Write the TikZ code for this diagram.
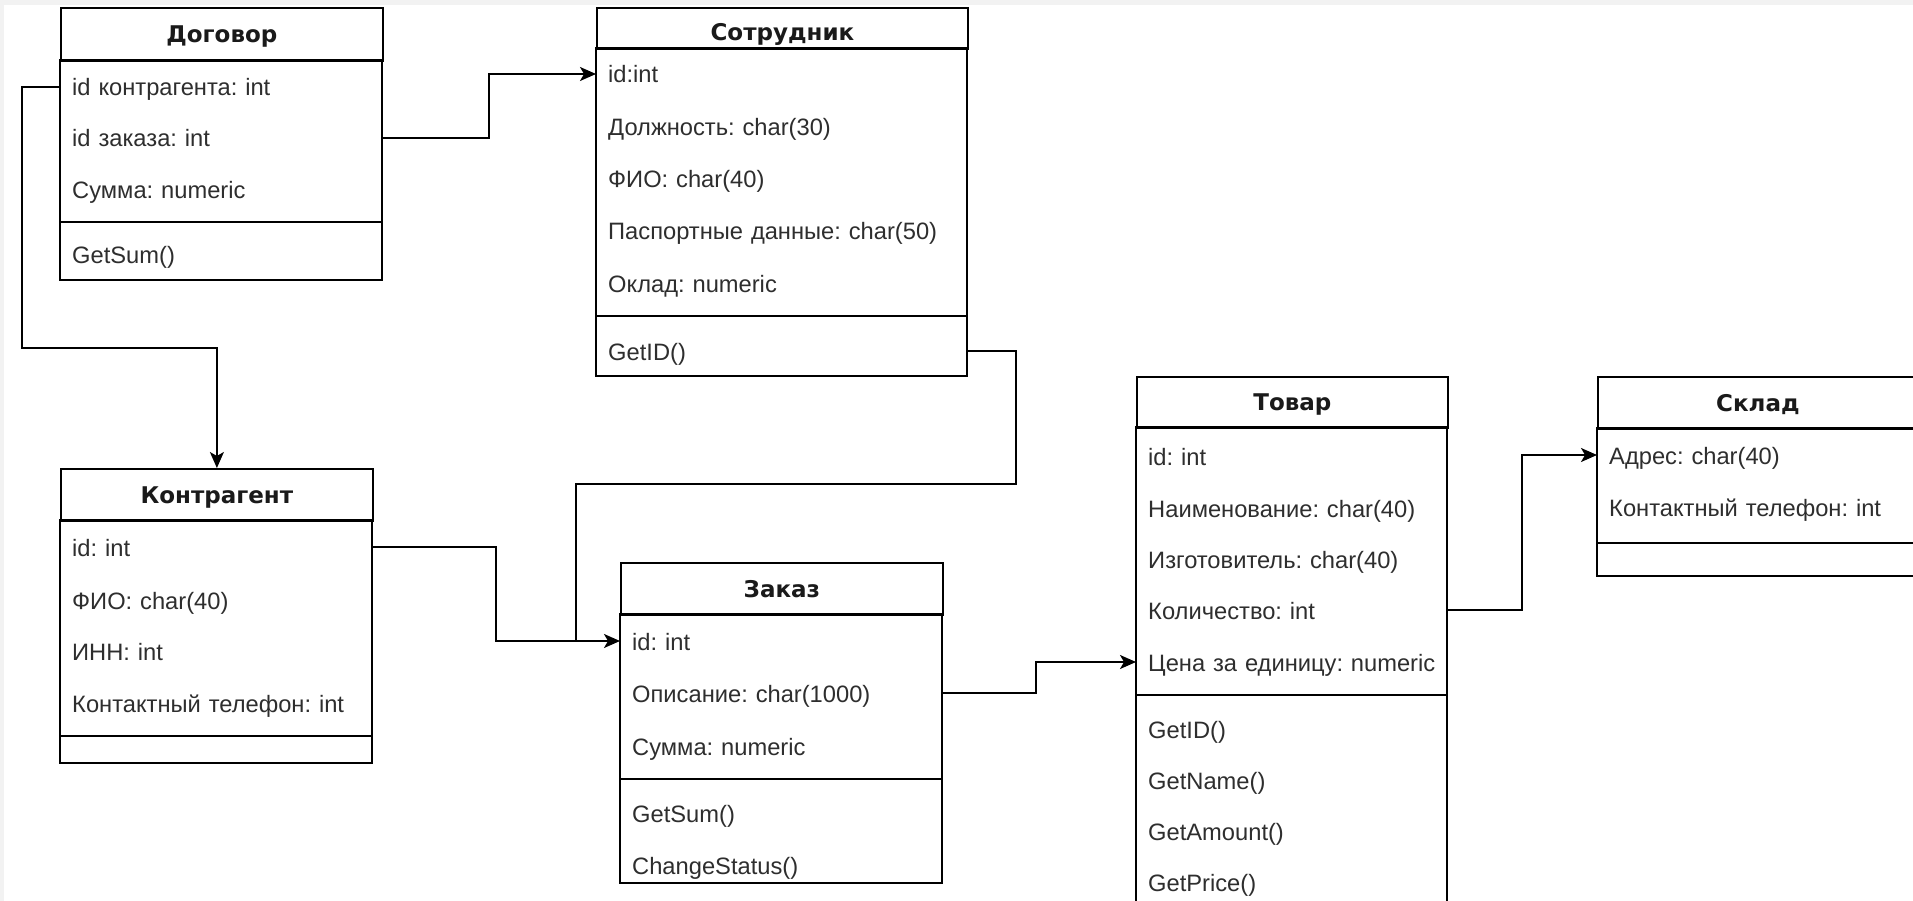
\documentclass[tikz,border=0pt]{standalone}
\usepackage{fontspec}
\setmainfont{Liberation Sans}
\newfontfamily\hdfont{DejaVu Sans}
\usetikzlibrary{arrows.meta}
\definecolor{rowgray}{HTML}{2E2E2E}
\definecolor{hdblack}{HTML}{1A1A1A}
\definecolor{bggray}{HTML}{F2F2F2}
\frenchspacing
\begin{document}
\frenchspacing
\begin{tikzpicture}[x=1pt,y=-1pt,
  frame/.style={draw=black, line width=1.8pt},
  hdr/.style={draw=black, line width=1.8pt, anchor=north west, inner sep=0pt,
    text height=19pt, text depth=2pt,
    font=\hdfont\bfseries\fontsize{23}{27}\selectfont, text=hdblack},
  rowtext/.style={anchor=west, text width=#1, inner xsep=12pt, inner ysep=0pt,
    text height=20pt, text depth=2pt,
    align=left, font=\frenchspacing\fontsize{23.7}{28}\selectfont, text=rowgray},
  conn/.style={line width=1.8pt, draw=black},
  arr/.style={conn, -{Stealth[length=16pt,width=14pt,inset=4pt]}}
]
\useasboundingbox (0,0) rectangle (1913,901);
\clip (0,0) rectangle (1913,901);
\fill[white] (0,0) rectangle (1913,901);
\fill[bggray] (0,0) rectangle (1913,5);
\fill[bggray] (0,0) rectangle (4,901);

% ---------- Договор ----------
\node[hdr, minimum width=322pt, minimum height=53pt] (dogh) at (60,7) {Договор};
\draw[frame] (60,60) rectangle (382,280);
\draw[frame] (60,222) -- (382,222);
\node[rowtext=298pt] (dog1) at (60,87) {\mbox{id контрагента: int}};
\node[rowtext=298pt] (dog2) at (60,138) {\mbox{id заказа: int}};
\node[rowtext=298pt] (dog3) at (60,190) {\mbox{Сумма: numeric}};
\node[rowtext=298pt] (dogm1) at (60,255) {\mbox{GetSum()}};

% ---------- Сотрудник ----------
\node[hdr, text height=26pt, minimum width=371pt, minimum height=41pt] (soth) at (596,7) {Сотрудник};
\draw[frame] (596,48) rectangle (967,376);
\draw[frame] (596,316) -- (967,316);
\node[rowtext=347pt] (sot1) at (596,74) {\mbox{id:int}};
\node[rowtext=347pt] (sot2) at (596,127) {\mbox{Должность: char(30)}};
\node[rowtext=347pt] (sot3) at (596,179) {\mbox{ФИО: char(40)}};
\node[rowtext=347pt] (sot4) at (596,231) {\mbox{Паспортные данные: char(50)}};
\node[rowtext=347pt] (sot5) at (596,283) {\mbox{Оклад: numeric}};
\node[rowtext=347pt] (sotm1) at (596,351) {\mbox{GetID()}};

% ---------- Контрагент ----------
\node[hdr, minimum width=312pt, minimum height=52pt] (konh) at (60,468) {Контрагент};
\draw[frame] (60,520) rectangle (372,763);
\draw[frame] (60,736) -- (372,736);
\node[rowtext=288pt] (kon1) at (60,547) {\mbox{id: int}};
\node[rowtext=288pt] (kon2) at (60,600) {\mbox{ФИО: char(40)}};
\node[rowtext=288pt] (kon3) at (60,651) {\mbox{ИНН: int}};
\node[rowtext=288pt] (kon4) at (60,703) {\mbox{Контактный телефон: int}};

% ---------- Заказ ----------
\node[hdr, minimum width=322pt, minimum height=52pt] (zakh) at (620,562) {Заказ};
\draw[frame] (620,614) rectangle (942,883);
\draw[frame] (620,779) -- (942,779);
\node[rowtext=298pt] (zak1) at (620,641) {\mbox{id: int}};
\node[rowtext=298pt] (zak2) at (620,693) {\mbox{Описание: char(1000)}};
\node[rowtext=298pt] (zak3) at (620,746) {\mbox{Сумма: numeric}};
\node[rowtext=298pt] (zakm1) at (620,813) {\mbox{GetSum()}};
\node[rowtext=298pt] (zakm2) at (620,865) {\mbox{ChangeStatus()}};

% ---------- Товар ----------
\node[hdr, minimum width=311pt, minimum height=51pt] (tovh) at (1136,376) {Товар};
\draw[frame] (1136,427) rectangle (1447,915);
\draw[frame] (1136,695) -- (1447,695);
\node[rowtext=287pt] (tov1) at (1136,456) {\mbox{id: int}};
\node[rowtext=287pt] (tov2) at (1136,508) {\mbox{Наименование: char(40)}};
\node[rowtext=287pt] (tov3) at (1136,559) {\mbox{Изготовитель: char(40)}};
\node[rowtext=287pt] (tov4) at (1136,610) {\mbox{Количество: int}};
\node[rowtext=287pt] (tov5) at (1136,662) {\mbox{Цена за единицу: numeric}};
\node[rowtext=287pt] (tovm1) at (1136,729) {\mbox{GetID()}};
\node[rowtext=287pt] (tovm2) at (1136,780) {\mbox{GetName()}};
\node[rowtext=287pt] (tovm3) at (1136,831) {\mbox{GetAmount()}};
\node[rowtext=287pt] (tovm4) at (1136,882) {\mbox{GetPrice()}};

% ---------- Склад ----------
\node[hdr, minimum width=320pt, minimum height=52pt] (sklh) at (1597,376) {Склад};
\draw[frame] (1597,428) rectangle (1917,576);
\draw[frame] (1597,543) -- (1917,543);
\node[rowtext=296pt] (skl1) at (1597,455) {\mbox{Адрес: char(40)}};
\node[rowtext=296pt] (skl2) at (1597,507) {\mbox{Контактный телефон: int}};

% ---------- connectors ----------
\coordinate (w1) at (22,348);
\coordinate (w2) at (489,138);
\coordinate (w3) at (1016,484);
\coordinate (w4) at (576,641);
\coordinate (w5) at (496,594);
\coordinate (w6) at (1036,677);
\coordinate (w7) at (1522,530);

\draw[arr] (dog1.west) -| (w1) -| (konh.north);
\draw[arr] (dog2.east) -- (w2) |- (sot1.west);
\draw[conn] (sotm1.east) -| (w3) -| (w4);
\draw[arr] (kon1.east) -| (w5) |- (zak1.west);
\draw[arr] (zak2.east) -| (w6) |- (tov5.west);
\draw[arr] (tov4.east) -| (w7) |- (skl1.west);
\end{tikzpicture}
\end{document}
